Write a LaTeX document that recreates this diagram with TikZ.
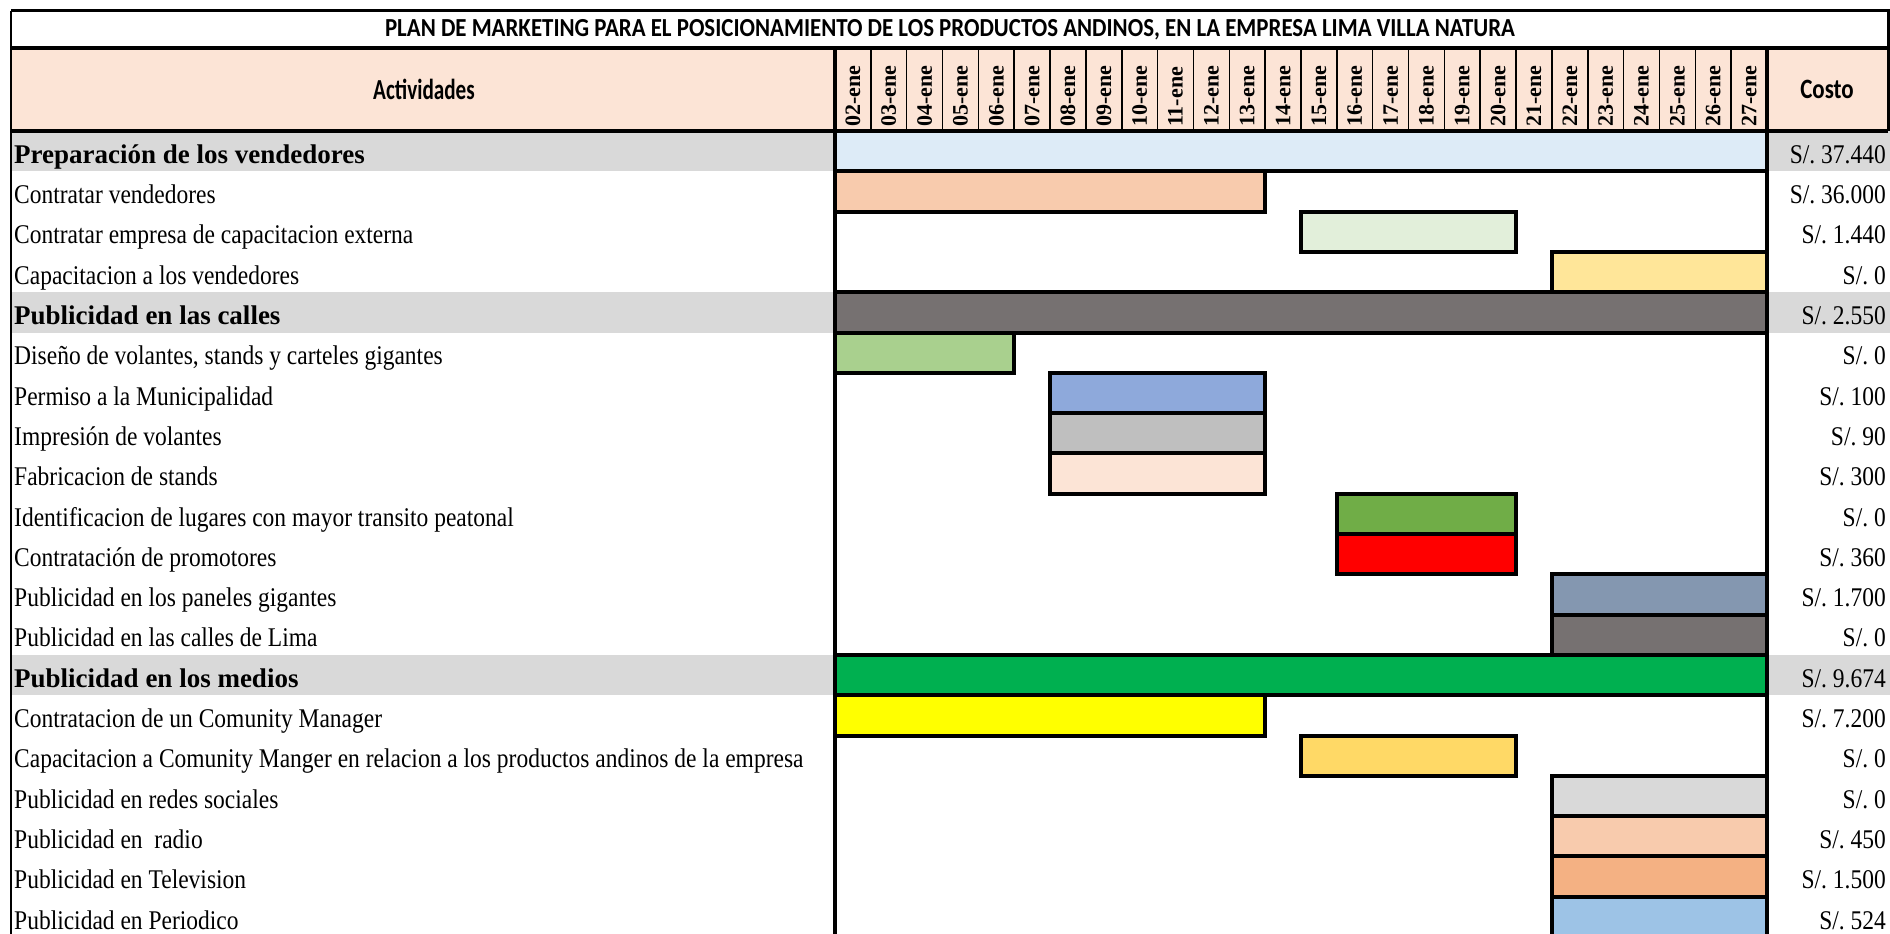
\documentclass[tikz,border=0pt]{standalone}
\usepackage{fontspec}
\setmainfont{Liberation Serif}
\newfontfamily\tnr[FakeStretch=0.87]{Liberation Serif}
\newfontfamily\tnrb[FakeStretch=1.0]{Liberation Serif Bold}
\newfontfamily\datefont{Liberation Serif Bold}
\newfontfamily\calibA[FakeStretch=0.73]{Carlito Bold}
\newfontfamily\calibC[FakeStretch=0.82]{Carlito Bold}
\newfontfamily\calibT[FakeStretch=0.88]{Carlito Bold}
\definecolor{hdr}{HTML}{FCE4D6}
\definecolor{grp}{HTML}{D9D9D9}
\definecolor{cA}{HTML}{DDEBF7}
\definecolor{cB}{HTML}{F8CBAD}
\definecolor{cC}{HTML}{E2EFDA}
\definecolor{cD}{HTML}{FFE699}
\definecolor{cE}{HTML}{767171}
\definecolor{cF}{HTML}{A9D08E}
\definecolor{cG}{HTML}{8EA9DB}
\definecolor{cH}{HTML}{BFBFBF}
\definecolor{cI}{HTML}{FCE4D6}
\definecolor{cJ}{HTML}{70AD47}
\definecolor{cK}{HTML}{FF0000}
\definecolor{cL}{HTML}{8497B0}
\definecolor{cM}{HTML}{00B050}
\definecolor{cN}{HTML}{FFFF00}
\definecolor{cO}{HTML}{FFD966}
\definecolor{cP}{HTML}{F4B183}
\definecolor{cQ}{HTML}{9DC3E6}
\begin{document}
\begin{tikzpicture}[x=1pt,y=-1pt,
  bar/.style={draw=black,line width=4pt},
  thick line/.style={line width=4pt},
  thin grid/.style={line width=1.5pt},
  acttext/.style={inner sep=0pt,font=\tnr\fontsize{27}{29}\selectfont},
  grptext/.style={inner sep=0pt,font=\tnrb\fontsize{27}{29}\selectfont},
  costtext/.style={inner sep=0pt,font=\tnr\fontsize{27}{29}\selectfont},
  datetext/.style={inner sep=0pt,rotate=90,font=\datefont\fontsize{22}{23}\selectfont},
  hdrtext/.style={inner sep=0pt,font=\calibA\fontsize{29}{31}\selectfont},
  costhdr/.style={inner sep=0pt,font=\calibC\fontsize{28}{30}\selectfont},
  titletext/.style={inner sep=0pt,font=\calibT\fontsize{26}{28}\selectfont}]
\def\rh{40.3}
\def\rt{131}
\def\cw{35.846}
\def\gx{835}
\def\gr{1767}
\useasboundingbox (0,0) rectangle (1890,934);
\clip (0,0) rectangle (1890,934);
\fill[white] (0,0) rectangle (1890,934);
% header background
\fill[hdr] (11,48) rectangle (1888,\rt);
% group row backgrounds
\foreach \i in {1,5,14}{
  \fill[grp] (11,{\rt+(\i-1)*\rh}) rectangle (\gx,{\rt+\i*\rh});
  \fill[grp] (\gr,{\rt+(\i-1)*\rh}) rectangle (1890,{\rt+\i*\rh});
}
% bars
\foreach \i/\s/\e/\col in {1/0/26/cA,2/0/12/cB,3/13/19/cC,4/20/26/cD,5/0/26/cE,
  6/0/5/cF,7/6/12/cG,8/6/12/cH,9/6/12/cI,10/14/19/cJ,11/14/19/cK,12/20/26/cL,
  13/20/26/cE,14/0/26/cM,15/0/12/cN,16/13/19/cO,17/20/26/grp,18/20/26/cB,
  19/20/26/cP,20/20/26/cQ}{
  \draw[bar,fill=\col] ({\gx+\s*\cw},{\rt+(\i-1)*\rh}) rectangle ({\gx+\e*\cw},{\rt+\i*\rh});
}
% header grid
\foreach \k in {1,...,25}{
  \draw[thin grid] ({\gx+\k*\cw},48) -- ({\gx+\k*\cw},\rt);
}
\draw[thick line] (\gx,48) -- (\gx,936);
\draw[thick line] (\gr,48) -- (\gr,936);
\draw[line width=2.5pt] (11,11) -- (11,936);
\draw[line width=3pt] (11,11) -- (1888,11) -- (1888,\rt);
\draw[thick line] (11,48) -- (1888,48);
\draw[thick line] (11,\rt) -- (1888,\rt);
% title
\node[titletext] (title) at (950,30) {PLAN DE MARKETING PARA EL POSICIONAMIENTO DE LOS PRODUCTOS ANDINOS, EN LA EMPRESA LIMA VILLA NATURA};
\node[hdrtext] (hact) at (424,89.5) {Actividades};
\node[costhdr] (hcost) at (1827,89.5) {Costo};
\foreach \k in {2,...,27}{
  \pgfmathtruncatemacro{\kk}{\k}
  \node[datetext,anchor=west] (d\k) at ({\gx+(\k-1.5)*\cw},127) {\ifnum\kk<10 0\fi\kk-ene};
}
% activity rows
\foreach \i/\t/\c in {
  2/{Contratar vendedores}/{36.000},
  3/{Contratar empresa de capacitacion externa}/{1.440},
  4/{Capacitacion a los vendedores}/{0},
  6/{Diseño de volantes, stands y carteles gigantes}/{0},
  7/{Permiso a la Municipalidad}/{100},
  8/{Impresión de volantes}/{90},
  9/{Fabricacion de stands}/{300},
  10/{Identificacion de lugares con mayor transito peatonal}/{0},
  11/{Contratación de promotores}/{360},
  12/{Publicidad en los paneles gigantes}/{1.700},
  13/{Publicidad en las calles de Lima}/{0},
  15/{Contratacion de un Comunity Manager}/{7.200},
  16/{Capacitacion a Comunity Manger en relacion a los productos andinos de la empresa}/{0},
  17/{Publicidad en redes sociales}/{0},
  18/{Publicidad en\ \ radio}/{450},
  19/{Publicidad en Television}/{1.500},
  20/{Publicidad en Periodico}/{524}}{
  \node[acttext,anchor=base west] (act\i) at (14,{\rt+\i*\rh-8}) {\t};
  \node[costtext,anchor=base east] (cost\i) at (1886,{\rt+\i*\rh-8}) {S/.\ \c};
}
\foreach \i/\t/\c in {
  1/{Preparación de los vendedores}/{37.440},
  5/{Publicidad en las calles}/{2.550},
  14/{Publicidad en los medios}/{9.674}}{
  \node[grptext,anchor=base west] (act\i) at (14,{\rt+\i*\rh-8}) {\t};
  \node[costtext,anchor=base east] (cost\i) at (1886,{\rt+\i*\rh-8}) {S/.\ \c};
}
\end{tikzpicture}
\end{document}
